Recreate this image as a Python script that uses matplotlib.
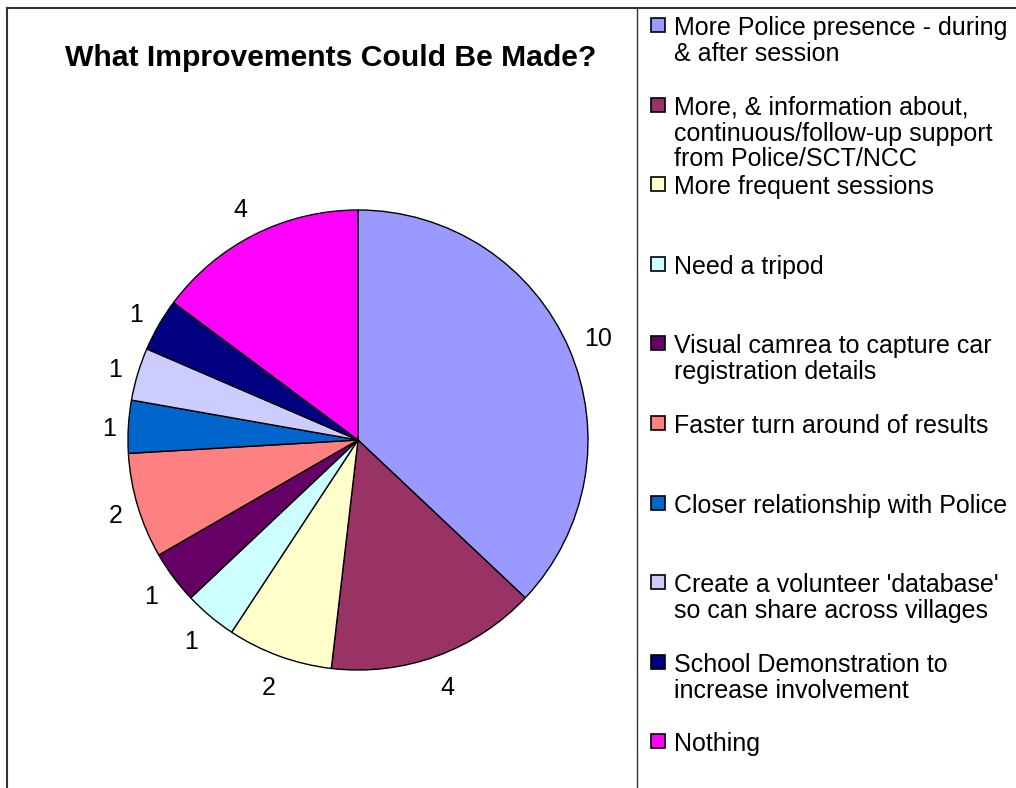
import numpy as np
import matplotlib.pyplot as plt
from matplotlib.patches import Rectangle
from matplotlib.lines import Line2D

plt.rcParams["font.family"] = ["Liberation Sans", "DejaVu Sans"]

CATEGORIES = [
    "More Police presence - during\n& after session",
    "More, & information about,\ncontinuous/follow-up support\nfrom Police/SCT/NCC",
    "More frequent sessions",
    "Need a tripod",
    "Visual camrea to capture car\nregistration details",
    "Faster turn around of results",
    "Closer relationship with Police",
    "Create a volunteer 'database'\nso can share across villages",
    "School Demonstration to\nincrease involvement",
    "Nothing",
]
VALUES = [10, 4, 2, 1, 1, 2, 1, 1, 1, 4]
COLORS = ["#9999FF", "#993366", "#FFFFCC", "#CCFFFF", "#660066",
          "#FF8080", "#0066CC", "#CCCCFF", "#000080", "#FF00FF"]

W, H = 1016, 788
fig = plt.figure(figsize=(W / 100, H / 100), dpi=100)

# pie axes: centre (358, 440) px, radius 230 px
cx, cy, r = 358, 440, 230
half = 300
ax = fig.add_axes([(cx - half) / W, (H - cy - half) / H, 2 * half / W, 2 * half / H])
wedges, texts = ax.pie(VALUES, colors=COLORS, startangle=90, counterclock=False,
                       labels=[str(v) for v in VALUES], labeldistance=1.12,
                       wedgeprops=dict(edgecolor="black", linewidth=1),
                       textprops=dict(fontsize=18))
# Excel-like label placement: label box sits just outside the rim
for w, t in zip(wedges, texts):
    ang = np.deg2rad((w.theta1 + w.theta2) / 2)
    c, s = np.cos(ang), np.sin(ang)
    dist = r + 11 + 7 * len(t.get_text()) * abs(c) + 19 * abs(s)
    t.set_position((dist * c / r, (dist * s - 3) / r))
    t.set_ha("center")
    t.set_va("center")
ax.set_xlim(-half / r, half / r)
ax.set_ylim(-half / r, half / r)
ax.set_aspect("equal")
ax.axis("off")

fig.text(331 / W, 1 - 58 / H, "What Improvements Could Be Made?",
         fontsize=21.7, fontweight="bold", ha="center", va="center")

# frame lines
fig.add_artist(Line2D([7 / W, 7 / W], [0, 1 - 8 / H], color="#333333", lw=1.5))
fig.add_artist(Line2D([7 / W, 1], [1 - 8 / H, 1 - 8 / H], color="#333333", lw=1.5))
fig.add_artist(Line2D([637 / W, 637 / W], [0, 1 - 8 / H], color="#333333", lw=1))

# legend
for i, (lab, col) in enumerate(zip(CATEGORIES, COLORS)):
    y = 25 + i * 79.6
    fig.add_artist(Rectangle((651 / W, 1 - (y + 7) / H), 14 / W, 14 / H,
                             facecolor=col, edgecolor="black", lw=1.2,
                             transform=fig.transFigure))
    fig.text(674 / W, 1 - (y - 9) / H, lab, fontsize=18, ha="left",
             va="top", linespacing=1.1)

fig.savefig("out.png", dpi=100)
